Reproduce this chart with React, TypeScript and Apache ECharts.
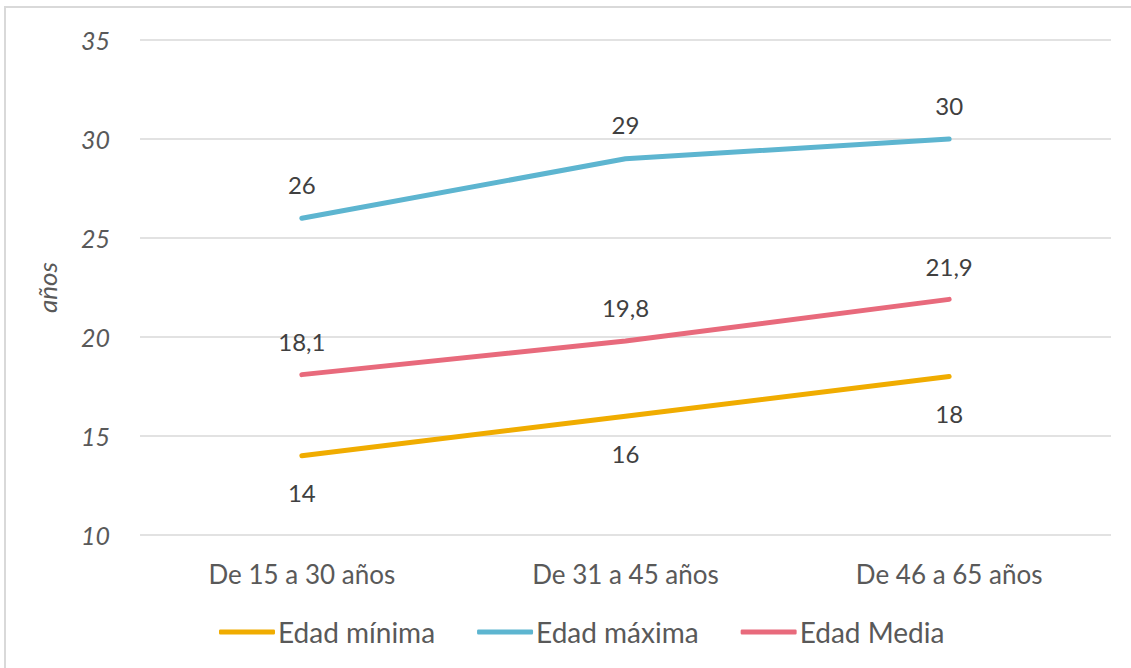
import React, { useEffect, useRef } from "react";
import * as echarts from "echarts";

const categories = ["De 15 a 30 años", "De 31 a 45 años", "De 46 a 65 años"];
const edadMinima = [14, 16, 18];
const edadMaxima = [26, 29, 30];
const edadMedia = [18.1, 19.8, 21.9];
const seriesNames = ["Edad mínima", "Edad máxima", "Edad Media"];
const colors = ["#F0AC00", "#5DB5D0", "#E86A7C"];

const FONT = "Lato, 'Open Sans', sans-serif";
const fmt = (v: number) => String(v).replace(".", ",");

export default function App() {
  const ref = useRef<HTMLDivElement>(null);
  useEffect(() => {
    if (!ref.current) return;
    const chart = echarts.init(ref.current, undefined, { renderer: "svg" });
    const mk = (name: string, data: number[], color: string, pos: "top" | "bottom", dist: number) => ({
      name,
      type: "line",
      data,
      symbol: "circle",
      symbolSize: 0,
      showSymbol: true,
      lineStyle: { width: 5, color, cap: "round" },
      itemStyle: { color },
      label: {
        show: true,
        position: pos,
        distance: dist,
        formatter: (p: any) => fmt(p.value),
        color: "#404040",
        fontSize: 24,
        fontFamily: FONT,
      },
    });
    chart.setOption({
      animation: false,
      backgroundColor: "#ffffff",
      color: colors,
      graphic: [
        {
          type: "rect",
          shape: { x: 5, y: 7, width: 1140, height: 680 },
          style: { fill: "none", stroke: "#d9d9d9", lineWidth: 2 },
          silent: true,
        },
      ],
      grid: { left: 140, right: 20, top: 40, bottom: 133, containLabel: false },
      legend: {
        bottom: 17,
        left: 214,
        itemWidth: 56,
        itemHeight: 5,
        itemGap: 42,
        icon: "roundRect",
        textStyle: { color: "#595959", fontSize: 28, fontFamily: FONT, padding: [0, 0, 0, -2] },
        data: seriesNames,
      },
      xAxis: {
        type: "category",
        data: categories,
        boundaryGap: true,
        axisLine: { show: false },
        axisTick: { show: false },
        axisLabel: { color: "#595959", fontSize: 26, fontFamily: FONT, margin: 26 },
      },
      yAxis: {
        type: "value",
        min: 10,
        max: 35,
        interval: 5,
        name: "años",
        nameLocation: "middle",
        nameGap: 80,
        nameTextStyle: { color: "#595959", fontSize: 26, fontStyle: "italic", fontFamily: FONT },
        axisLine: { show: false },
        axisTick: { show: false },
        axisLabel: { color: "#595959", fontSize: 25, fontStyle: "italic", fontFamily: FONT, margin: 30 },
        splitLine: { lineStyle: { color: "#d9d9d9", width: 1.5 } },
      },
      series: [
        mk(seriesNames[0], edadMinima, colors[0], "bottom", 25),
        mk(seriesNames[1], edadMaxima, colors[1], "top", 22),
        mk(seriesNames[2], edadMedia, colors[2], "top", 21),
      ],
    });
    return () => chart.dispose();
  }, []);
  return (
    <div
      ref={ref}
      style={{ position: "fixed", left: 0, top: 0, width: 1131, height: 668 }}
    />
  );
}
